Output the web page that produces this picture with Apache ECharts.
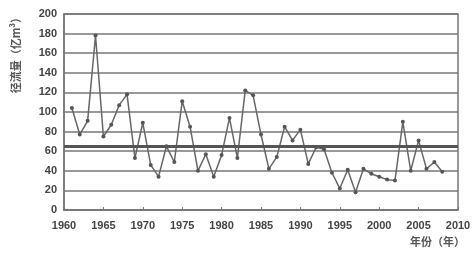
<!DOCTYPE html>
<html>
<head>
<meta charset="utf-8">
<script src="https://cdn.jsdelivr.net/npm/echarts@6/dist/echarts.min.js"></script>
<style>
  html, body { margin: 0; padding: 0; background: #fff; }
  #chart { width: 474px; height: 253px; }
</style>
</head>
<body>
<div id="chart"></div>
<script>
// 年份 1961-2008
const years = []
for (let y = 1961; y <= 2008; y++) years.push(y)

// 径流量（亿m³）
const runoff = [
  104, 77, 91, 178, 75, 87, 107, 118, 53, 89, 46, 34,
  65, 49, 111, 85, 40, 57, 34, 56, 94, 53, 122, 117, 77,
  42, 54, 85, 71, 82, 47, 64, 62, 38, 22, 41, 18,
  42, 37, 34, 31, 30, 90, 40, 71, 42, 49, 39
]

// 多年平均
const meanValue = 65

const xTicks = [1960, 1965, 1970, 1975, 1980, 1985, 1990, 1995, 2000, 2005, 2010]
const yTicks = [0, 20, 40, 60, 80, 100, 120, 140, 160, 180, 200]

const labelFont = {
  color: '#444',
  fontSize: 11,
  fontWeight: 'bold',
  fontFamily: 'Liberation Sans, Arial, sans-serif',
}

let myChart = echarts.init(document.getElementById('chart'))
let option = {
  animation: false,
  grid: {
    left: 64,
    right: 16,
    top: 14,
    bottom: 43,
    show: true,
    borderColor: '#777',
    borderWidth: 1.5,
  },
  xAxis: {
    type: 'value',
    min: xTicks[0],
    max: xTicks[xTicks.length - 1],
    interval: 5,
    axisLine: { show: true, lineStyle: { color: '#777', width: 1.5 } },
    axisTick: { show: true, inside: true, length: 3, lineStyle: { color: '#777' } },
    splitLine: { show: false },
    axisLabel: Object.assign({ margin: 10, formatter: (v) => String(v) }, labelFont),
  },
  yAxis: {
    type: 'value',
    min: yTicks[0],
    max: yTicks[yTicks.length - 1],
    interval: 20,
    axisLine: { show: true, lineStyle: { color: '#777', width: 1.5 } },
    axisTick: { show: false },
    splitLine: { show: true, lineStyle: { color: '#777', width: 1.5 } },
    axisLabel: Object.assign({ margin: 7 }, labelFont),
  },
  graphic: [
    {
      type: 'text',
      left: 10,
      top: 12,
      rotation: Math.PI / 2,
      style: {
        text: '径流量（亿m³）',
        fill: '#555',
        font: 'bold 11px "Noto Sans CJK SC", sans-serif',
      },
    },
    {
      type: 'text',
      left: 410,
      top: 236,
      style: {
        text: '年份（年）',
        fill: '#555',
        font: 'bold 11px "Noto Sans CJK SC", sans-serif',
      },
    },
  ],
  series: [
    {
      type: 'line',
      data: years.map((y, i) => [y, runoff[i]]),
      symbol: 'circle',
      symbolSize: 4,
      itemStyle: { color: '#555' },
      lineStyle: { color: '#666', width: 1.5 },
      markLine: {
        silent: true,
        symbol: 'none',
        label: { show: false },
        lineStyle: { color: '#555', width: 3, type: 'solid' },
        data: [{ yAxis: meanValue }],
      },
    },
  ],
}
myChart.setOption(option)
</script>
</body>
</html>
